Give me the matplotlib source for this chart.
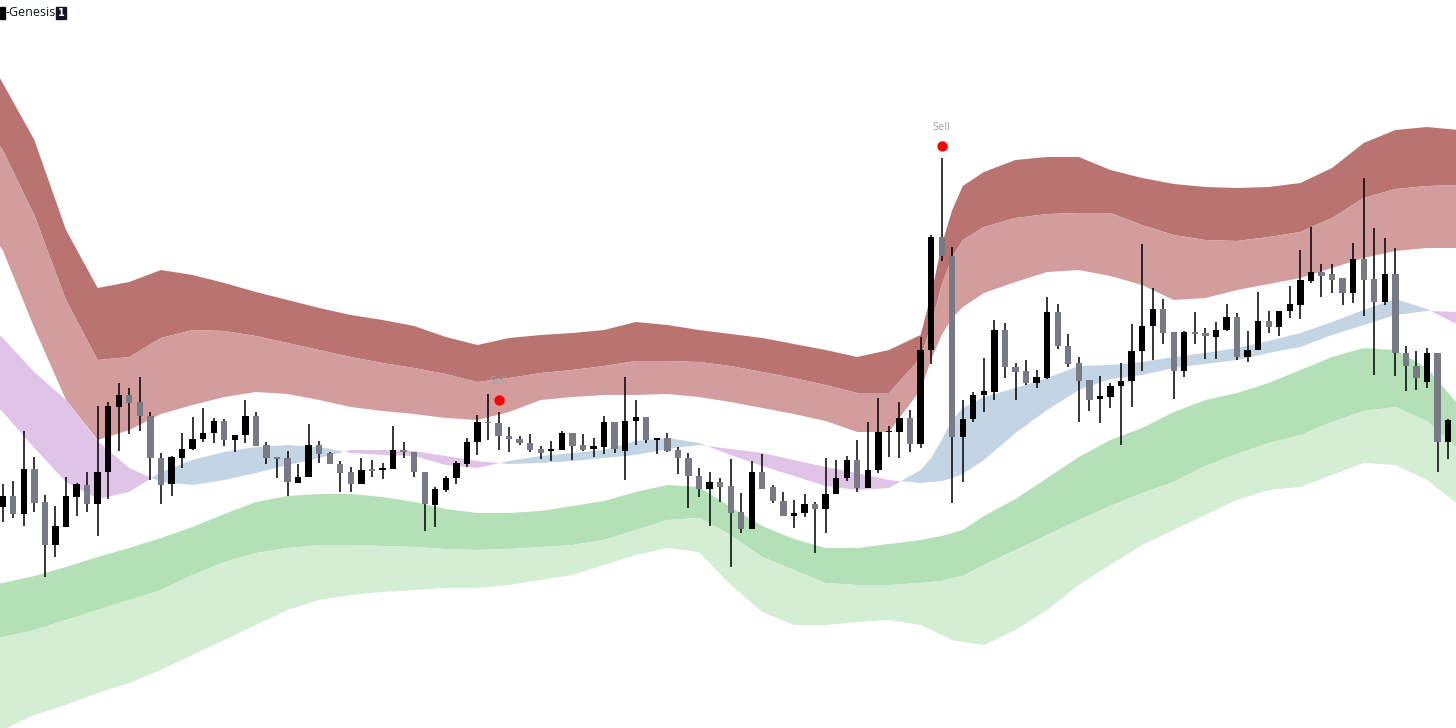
import numpy as np
import matplotlib.pyplot as plt
from matplotlib.patches import Rectangle

# candles: open, high, low, close
opens = [122.13, 123.23, 121.40, 125.90, 122.60, 118.30, 120.13, 123.13, 124.30, 122.40,
         125.63, 132.13, 133.30, 132.57, 131.23, 127.03, 124.37, 127.03, 127.87, 128.90,
         129.47, 130.73, 128.80, 129.30, 131.23, 128.30, 127.07, 126.97, 124.53, 125.07,
         128.30, 127.47, 126.40, 125.57, 124.37, 125.83, 125.80, 125.90, 127.77, 127.57,
         125.63, 122.30, 123.80, 124.97, 126.40, 128.63, 130.63, 130.53, 129.23, 128.90,
         128.53, 127.90, 127.67, 127.80, 129.47, 128.30, 127.87, 128.13, 130.57, 127.73,
         130.70, 131.13, 128.80, 129.03, 127.80, 127.03, 125.23, 123.90, 124.63, 124.20,
         121.57, 119.90, 125.57, 124.13, 122.70, 121.23, 121.47, 122.40, 121.87, 123.37,
         124.97, 126.80, 124.03, 125.80, 129.57, 129.63, 131.03, 128.40, 137.80, 149.13,
         147.20, 129.13, 130.90, 133.30, 133.63, 139.80, 136.07, 135.73, 134.53, 135.03,
         141.57, 138.23, 136.47, 134.80, 132.87, 133.13, 134.20, 134.73, 137.70, 140.23,
         141.90, 139.57, 135.70, 139.57, 139.47, 139.13, 139.80, 141.13, 137.13, 137.80,
         140.73, 140.13, 141.70, 142.30, 144.70, 145.63, 145.37, 144.97, 143.47, 146.90,
         144.90, 142.63, 145.40, 137.53, 136.20, 134.63, 137.47, 128.57]
highs = [124.40, 124.73, 129.70, 127.13, 123.33, 122.20, 125.13, 124.53, 125.63, 132.23,
         132.63, 134.53, 134.03, 135.13, 131.63, 127.53, 127.20, 129.53, 131.13, 131.97,
         131.03, 130.87, 129.30, 132.80, 131.57, 128.63, 127.07, 127.70, 126.37, 130.37,
         128.73, 127.63, 126.73, 126.13, 126.97, 126.80, 126.53, 130.23, 128.63, 127.63,
         125.63, 124.13, 125.20, 126.73, 128.97, 131.30, 133.40, 131.57, 130.07, 129.20,
         129.37, 128.20, 128.73, 129.73, 129.47, 129.37, 129.03, 131.20, 130.63, 135.07,
         132.80, 131.13, 129.03, 129.47, 128.13, 127.47, 125.97, 125.57, 125.03, 126.87,
         123.47, 126.73, 127.37, 124.30, 123.63, 122.80, 123.37, 122.63, 126.97, 126.80,
         127.20, 128.80, 130.63, 132.97, 130.20, 132.63, 131.80, 139.13, 149.30, 156.97,
         148.13, 132.80, 133.63, 136.97, 140.80, 140.53, 136.53, 136.80, 135.80, 143.13,
         142.40, 139.37, 137.13, 134.80, 135.20, 134.53, 136.47, 140.40, 148.40, 143.97,
         142.90, 139.57, 139.70, 141.57, 139.97, 140.63, 142.37, 141.53, 139.73, 143.57,
         141.73, 141.70, 144.20, 147.80, 150.13, 146.37, 146.40, 144.97, 148.53, 154.97,
         149.97, 149.03, 148.03, 138.23, 137.70, 138.03, 137.47, 130.90]
lows = [120.63, 121.03, 120.23, 121.63, 115.13, 117.13, 120.13, 121.23, 121.63, 119.20,
        122.87, 127.73, 129.40, 129.70, 124.80, 122.40, 123.20, 126.03, 127.80, 128.63,
        128.47, 128.20, 127.63, 128.53, 128.23, 126.40, 124.97, 123.20, 124.53, 125.07,
        126.53, 126.37, 123.63, 123.57, 124.37, 125.13, 124.87, 125.90, 126.97, 125.07,
        119.70, 120.07, 123.57, 124.37, 126.13, 127.30, 128.80, 127.80, 127.63, 128.30,
        127.63, 126.87, 126.73, 127.80, 126.80, 127.70, 127.07, 127.40, 127.47, 124.80,
        128.30, 128.53, 127.40, 127.63, 125.40, 122.03, 123.07, 120.23, 122.63, 116.07,
        119.47, 119.90, 123.90, 122.47, 121.23, 120.03, 121.13, 117.47, 119.47, 123.37,
        124.70, 123.63, 123.97, 125.47, 127.13, 126.97, 127.63, 127.97, 136.40, 146.73,
        122.47, 124.63, 130.63, 131.63, 132.80, 134.97, 132.80, 134.30, 134.03, 134.90,
        137.87, 136.07, 130.63, 131.73, 130.53, 132.03, 128.30, 132.07, 135.70, 136.80,
        138.37, 132.90, 135.13, 138.40, 136.90, 136.90, 139.73, 136.80, 136.57, 137.80,
        139.47, 139.23, 140.97, 140.90, 144.53, 143.13, 143.47, 142.30, 142.47, 141.20,
        135.30, 142.30, 135.23, 133.73, 133.80, 133.97, 125.63, 126.90]
closes = [123.20, 121.37, 125.90, 122.53, 118.30, 120.17, 123.17, 124.37, 122.40, 125.63,
          132.23, 133.30, 132.47, 131.23, 126.97, 124.30, 127.13, 127.87, 128.90, 129.47,
          130.73, 128.80, 129.30, 131.23, 128.23, 126.97, 126.93, 124.57, 125.13, 128.30,
          127.40, 126.37, 125.47, 124.37, 125.80, 125.73, 125.97, 127.80, 127.60, 125.63,
          122.37, 123.90, 125.03, 126.53, 128.63, 130.63, 130.50, 129.20, 128.90, 128.53,
          127.80, 127.53, 127.87, 129.47, 128.23, 127.80, 128.20, 130.57, 127.87, 130.73,
          131.13, 128.80, 129.03, 127.73, 126.97, 125.20, 123.90, 124.57, 124.13, 121.47,
          119.90, 125.57, 123.90, 122.70, 121.23, 121.47, 122.40, 121.87, 123.37, 125.03,
          126.80, 124.03, 125.80, 129.63, 129.70, 131.03, 128.40, 137.80, 149.07, 147.20,
          129.13, 130.90, 133.30, 133.70, 139.80, 136.07, 135.63, 134.47, 135.07, 141.57,
          138.20, 136.37, 134.70, 132.80, 133.20, 134.20, 134.73, 137.73, 140.23, 141.90,
          139.47, 135.70, 139.57, 139.40, 139.20, 139.80, 141.13, 137.07, 137.80, 140.73,
          140.07, 141.70, 142.37, 144.80, 145.63, 145.20, 144.80, 143.47, 146.90, 144.80,
          142.63, 145.40, 137.47, 136.20, 135.00, 137.47, 128.57, 130.80]

sell_bars = [47, 89]

# band lines, sampled at these bar numbers
band_idx = [-1, 0, 3, 6, 9, 12, 15, 18, 21, 24, 27, 30, 33, 36, 39, 42, 45, 48, 51, 54,
            57, 60, 63, 66, 69, 72, 75, 78, 81, 84, 87, 88, 89, 90, 91, 93, 96, 99, 102, 105,
            108, 111, 114, 117, 120, 123, 126, 129, 132, 135, 138]
upper_outer = [166.3, 164.5, 158.8, 149.8, 144.0, 144.6, 145.8, 145.3, 144.5, 143.6,
               142.8, 142.0, 141.3, 140.8, 140.2, 139.1, 138.3, 139.0, 139.3, 139.5,
               139.8, 140.6, 140.3, 139.8, 139.4, 139.0, 138.4, 137.8, 137.1, 137.8,
               139.3, 143.3, 148.3, 151.8, 154.2, 155.6, 156.8, 157.1, 157.1, 155.8,
               155.0, 154.4, 154.1, 154.0, 154.1, 154.5, 156.0, 158.5, 159.8, 160.1, 159.8]
upper_mid = [159.3, 157.8, 151.3, 142.8, 136.8, 137.1, 139.0, 139.8, 139.7, 139.2,
             138.5, 137.8, 137.1, 136.5, 136.0, 135.4, 134.6, 135.0, 135.5, 135.8,
             136.2, 136.7, 136.7, 136.6, 136.2, 135.6, 135.0, 134.3, 133.5, 133.5,
             137.0, 140.3, 144.3, 147.1, 148.8, 150.1, 151.0, 151.4, 151.5, 151.5,
             150.3, 149.3, 148.8, 148.7, 149.1, 149.6, 151.0, 153.0, 153.9, 154.2, 154.3]
upper_inner = [149.3, 147.8, 140.0, 132.8, 128.8, 129.8, 131.4, 132.3, 133.1, 133.6,
               133.4, 132.8, 132.1, 131.7, 131.4, 131.0, 130.8, 131.6, 132.8, 133.1,
               133.3, 133.3, 133.4, 133.1, 132.6, 132.0, 131.4, 130.7, 129.6, 129.6,
               133.8, 136.8, 139.3, 141.0, 142.1, 143.5, 144.6, 145.6, 145.8, 145.2,
               144.3, 142.8, 143.0, 143.8, 144.4, 145.0, 146.0, 147.0, 147.7, 148.0, 148.0]
fast_ma = [132.6, 131.6, 128.0, 124.6, 122.9, 123.6, 125.6, 126.8, 127.6, 128.1,
           128.3, 128.1, 127.5, 127.3, 127.2, 126.3, 126.0, 126.7, 127.2, 127.5,
           127.8, 128.7, 129.0, 128.5, 127.3, 126.2, 125.2, 124.2, 123.8, 124.0,
           125.8, 127.0, 128.8, 130.8, 132.0, 133.1, 134.0, 135.0, 136.2, 136.3,
           136.6, 137.1, 137.5, 138.0, 138.7, 139.5, 140.6, 141.8, 142.9, 141.9, 140.3]
slow_ma = [140.0, 139.0, 135.6, 132.8, 128.7, 126.0, 124.6, 124.3, 124.8, 125.5,
           126.3, 127.0, 127.8, 127.8, 127.7, 127.2, 126.7, 126.4, 126.5, 126.7,
           127.0, 127.3, 127.9, 128.3, 127.9, 127.5, 126.8, 126.1, 125.5, 124.8,
           124.5, 124.6, 124.7, 125.0, 125.4, 126.8, 129.5, 131.8, 133.8, 134.9,
           135.3, 136.0, 136.4, 136.8, 137.5, 138.1, 139.3, 140.3, 141.3, 141.7, 141.6]
lower_inner = [114.3, 114.5, 115.2, 116.1, 117.1, 118.0, 119.0, 120.1, 121.4, 122.6,
               123.2, 123.4, 123.4, 123.1, 122.6, 121.9, 121.5, 121.5, 121.7, 122.2,
               122.7, 123.6, 124.3, 124.1, 122.1, 120.2, 118.9, 118.0, 118.0, 118.4,
               118.8, 119.0, 119.2, 119.5, 119.8, 121.2, 122.9, 125.0, 127.1, 128.8,
               130.0, 131.6, 132.8, 133.5, 134.5, 135.8, 137.1, 138.0, 137.8, 136.0, 132.3]
lower_mid = [108.8, 109.1, 109.8, 110.8, 111.8, 112.8, 113.8, 115.3, 116.6, 117.5,
             118.0, 118.3, 118.3, 118.2, 118.1, 117.9, 117.8, 117.9, 118.1, 118.3,
             118.8, 119.8, 120.8, 121.0, 119.3, 117.1, 115.8, 114.5, 114.3, 114.3,
             114.5, 114.6, 114.7, 115.0, 115.2, 116.3, 117.8, 119.3, 120.8, 122.2,
             123.5, 124.6, 126.2, 127.4, 128.5, 129.3, 130.6, 131.7, 132.1, 130.7, 127.8]
lower_outer = [99.3, 99.8, 101.3, 102.3, 103.5, 104.5, 105.8, 107.3, 108.8, 110.3,
               111.8, 112.8, 113.3, 113.6, 113.8, 114.0, 114.0, 114.3, 114.8, 115.3,
               116.3, 117.3, 118.0, 117.6, 114.3, 111.6, 110.3, 110.3, 110.6, 110.8,
               110.3, 109.8, 109.3, 108.8, 108.6, 108.3, 109.8, 111.8, 114.3, 116.3,
               118.3, 119.8, 121.3, 122.8, 123.8, 124.1, 125.3, 126.5, 126.3, 124.8, 122.3]

fig = plt.figure(figsize=(14.56, 7.28), dpi=100)
ax = fig.add_axes([0, 0, 1, 1])
ax.axis("off")

bx = np.array(band_idx)
ax.fill_between(bx, upper_outer, upper_mid, color="#b97472", lw=0, zorder=1)
ax.fill_between(bx, upper_mid, upper_inner, color="#d29d9c", lw=0, zorder=1)
f = np.array(fast_ma)
s = np.array(slow_ma)
ax.fill_between(bx, f, s, where=f >= s, interpolate=True, color="#c3d4e4", lw=0, zorder=1)
ax.fill_between(bx, f, s, where=f <= s, interpolate=True, color="#dfc4e8", lw=0, zorder=1)
ax.fill_between(bx, lower_inner, lower_mid, color="#b4e0b8", lw=0, zorder=1)
ax.fill_between(bx, lower_mid, lower_outer, color="#d4eed4", lw=0, zorder=1)

# candles
o = np.array(opens)
c = np.array(closes)
x = np.arange(len(o))
up = c >= o
colors = np.where(up, "#000000", "#787b86")
ax.vlines(x, lows, highs, color="black", lw=1.1, zorder=2)
body = np.maximum(np.abs(c - o), 0.15)
ax.bar(x, body, bottom=np.minimum(o, c), width=0.6, color=colors, zorder=3)

for i in sell_bars:
    ax.scatter(i, highs[i] + 1.25, s=55, color="#ff0000", zorder=4, lw=0)
    ax.text(i, highs[i] + 2.55, "Sell", color="#a3a3a3", fontsize=8, ha="center",
            va="bottom", family="Open Sans", zorder=4)

ax.set_xlim(-0.256, 137.75)
ax.set_ylim(100, 172.8)

# indicator title top left
fig.patches.append(Rectangle((0, 1 - 19 / 728), 5 / 1456, 12 / 728, color="black",
                             transform=fig.transFigure))
fig.text(5 / 1456, 1 - 13 / 728, "-Genesis", fontsize=9, family="Open Sans",
         va="center", ha="left", color="#131722")
fig.patches.append(Rectangle((56 / 1456, 1 - 19 / 728), 10 / 1456, 12 / 728, color="#131722",
                             transform=fig.transFigure))
fig.text(61 / 1456, 1 - 13 / 728, "1", fontsize=7, color="white", ha="center", va="center",
         fontweight="bold")

fig.savefig("out.png", dpi=100, facecolor="white")
